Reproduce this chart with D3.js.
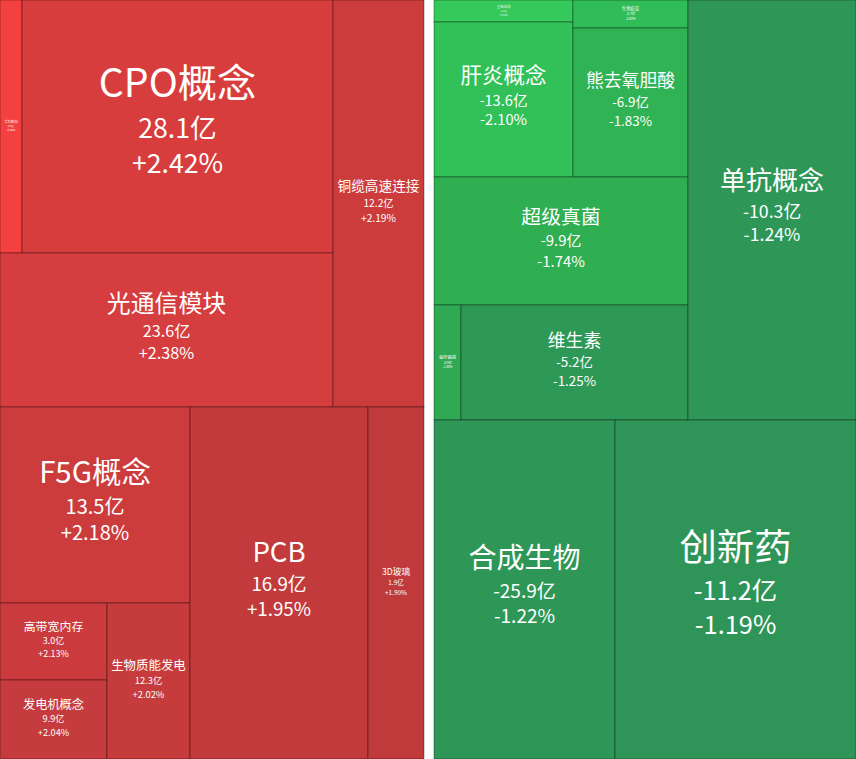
<!DOCTYPE html>
<html><head><meta charset="utf-8">
<script src="https://cdn.jsdelivr.net/npm/d3@7"></script>
<style>body{margin:0;background:#fff}svg{display:block}text{font-family:"Noto Sans CJK SC","Noto Sans",sans-serif;fill:#fff}</style>
</head><body><svg id="c" width="856" height="759"></svg>
<script>
// Left (gainers) tiles: name, amount (亿), change %, relative area weight
const redNames   = ["华为欧拉","CPO概念","光通信模块","铜缆高速连接","F5G概念","高带宽内存","发电机概念","生物质能发电","PCB","3D玻璃"];
const redAmount  = [0.8,28.1,23.6,12.2,13.5,3.0,9.9,12.3,16.9,1.9];
const redPct     = [2.85,2.42,2.38,2.19,2.18,2.13,2.04,2.02,1.95,1.90];
const redWeight  = [55.7,786.8,512.8,370.4,372.4,82.4,84.5,129.5,626.6,197.1];
// Right (losers) tiles
const greenNames  = ["重组蛋白","肝炎概念","生物疫苗","熊去氧胆酸","超级真菌","医疗器械","维生素","单抗概念","合成生物","创新药"];
const greenAmount = [-1.2,-13.6,-0.7,-6.9,-9.9,-0.9,-5.2,-10.3,-25.9,-11.2];
const greenPct    = [-2.31,-2.10,-2.00,-1.83,-1.74,-1.60,-1.25,-1.24,-1.22,-1.19];
const greenWeight = [30.6,215.5,32.2,171.4,325.1,31.1,261.1,705.6,613.6,817.0];

// Nesting structure (indices into arrays); 'v' = stacked rows, 'h' = side-by-side columns
const redTree = {dir:"v",children:[
  {dir:"h",children:[
    {dir:"v",children:[{dir:"h",children:[0,1]},2]},
    3]},
  {dir:"h",children:[
    {dir:"v",children:[4,{dir:"h",children:[{dir:"v",children:[5,6]},7]}]},
    8,9]}
]};
const greenTree = {dir:"v",children:[
  {dir:"h",children:[
    {dir:"v",children:[
      {dir:"h",children:[{dir:"v",children:[0,1]},{dir:"v",children:[2,3]}]},
      4,
      {dir:"h",children:[5,6]}]},
    7]},
  {dir:"h",children:[8,9]}
]};

function build(t,names,amt,pct,w){
  if(typeof t==="number") return {name:names[t],amt:amt[t],pct:pct[t],value:w[t]};
  return {dir:t.dir,children:t.children.map(c=>build(c,names,amt,pct,w))};
}
const tile=(node,x0,y0,x1,y1)=>(node.data.dir==="v"?d3.treemapSlice:d3.treemapDice)(node,x0,y0,x1,y1);

const svg=d3.select("#c");
function draw(tree,x0,x1,color){
  const root=d3.hierarchy(tree).sum(d=>d.value||0);
  d3.treemap().tile(tile).size([x1-x0,759]).round(true)(root);
  const g=svg.append("g").attr("transform",`translate(${x0},0)`);
  const leaves=root.leaves();
  const cell=g.selectAll("g").data(leaves).join("g").attr("transform",d=>`translate(${d.x0},${d.y0})`);
  cell.append("rect").attr("width",d=>d.x1-d.x0).attr("height",d=>d.y1-d.y0)
    .attr("fill",d=>color(d.data.pct)).attr("stroke","rgba(0,0,0,0.35)").attr("stroke-width",1);
  cell.each(function(d){
    const w=d.x1-d.x0,h=d.y1-d.y0;
    const nm=d.data.name;
    const ems=nm.replace(/[A-Za-z0-9]/g,"").length+nm.replace(/[^A-Za-z0-9]/g,"").length*0.6;
    let ns=Math.min(Math.min(w,h)*0.155,w*0.9/ems);
    ns=Math.max(ns,3);
    const vs=ns>20?ns*0.68:ns*0.75;
    const g1=ns>20?1.55:1.5, g2=ns>20?1.33:1.45;
    const total=ns+vs*(g1+g2-0.2);
    const cx=w/2;
    let y=h/2-ns*0.2-total/2+ns*0.85;
    const sel=d3.select(this);
    sel.append("text").attr("x",cx).attr("y",y).attr("text-anchor","middle").attr("font-size",ns).text(nm);
    y+=vs*g1;
    sel.append("text").attr("x",cx).attr("y",y).attr("text-anchor","middle").attr("font-size",vs).text(d.data.amt.toFixed(1)+"亿");
    y+=vs*g2;
    sel.append("text").attr("x",cx).attr("y",y).attr("text-anchor","middle").attr("font-size",vs).text((d.data.pct>0?"+":"")+d.data.pct.toFixed(2)+"%");
  });
}
const redColor=d3.scaleLinear().domain([1.90,2.42,2.85]).range(["#c03a3c","#d83d3e","#f4403f"]);
const greenColor=d3.scaleLinear().domain([-2.31,-2.10,-1.74,-1.45,-1.19]).range(["#34c95a","#31c158","#2fae52","#2ea456","#2e9457"]);
draw(build(redTree,redNames,redAmount,redPct,redWeight),0,424,redColor);
draw(build(greenTree,greenNames,greenAmount,greenPct,greenWeight),434,856,greenColor);
</script></body></html>
